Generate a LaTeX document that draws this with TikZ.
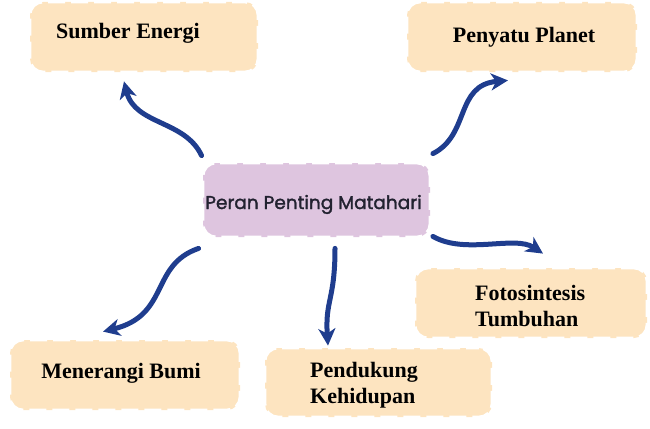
\documentclass[tikz,border=0pt]{standalone}
\usepackage{fontspec}
\setmainfont{Liberation Serif}
\newfontfamily\centerfont[FakeBold=1.6]{Poppins}
\usetikzlibrary{arrows.meta,calc}
\definecolor{peach}{HTML}{FDE4C0}
\definecolor{lav}{HTML}{DEC5DF}
\definecolor{arrowblue}{HTML}{1F3D8E}
\definecolor{centertext}{HTML}{222230}
\tikzset{
  boxshape/.style={rectangle, rounded corners=13pt, inner sep=0pt, draw=white,
    line width=2.8pt, dash pattern=on 17pt off 6pt, dash phase=4pt},
  peachbox/.style={boxshape, fill=peach},
  lavbox/.style={boxshape, fill=lav},
  lbl/.style={font=\bfseries\fontsize{22}{22}\selectfont, inner sep=0pt},
  lbltwo/.style={lbl, align=left, anchor=north west},
  conn/.style={draw=arrowblue, line width=5pt, line cap=round,
    -{Stealth[length=17pt,width=17pt,inset=5pt]}}
}
\begin{document}
\begin{tikzpicture}[x=1pt,y=-1pt]
\useasboundingbox (0,0) rectangle (650,428);
% boxes
\node[peachbox, minimum width=228pt, minimum height=70pt] (se) at (144,37) {};
\node[peachbox, minimum width=230pt, minimum height=70pt] (pp) at (522,37) {};
\node[lavbox, minimum width=227pt, minimum height=74pt] (c) at (316.5,200) {};
\node[peachbox, minimum width=230pt, minimum height=70pt] (mb) at (125,375) {};
\node[peachbox, minimum width=227pt, minimum height=69pt] (pk) at (378.5,382.5) {};
\node[peachbox, minimum width=232pt, minimum height=70pt] (ft) at (531,303) {};
% labels
\node[lbl, anchor=base] (tse) at (128,38) {Sumber Energi};
\node[lbl, anchor=base] (tpp) at (524,42) {Penyatu Planet};
\node[lbl, anchor=base] (tmb) at (121,378) {Menerangi Bumi};
\node[lbltwo] (tpk) at (310,362) {Pendukung\\[4pt]Kehidupan};
\node[lbltwo] (tft) at (475,285) {Fotosintesis\\[4pt]Tumbuhan};
\node[inner sep=0pt, anchor=base, text=centertext, font=\centerfont\fontsize{18.5}{20}\selectfont] (tc) at (313.5,209) {Peran Penting Matahari};
% connectors
\draw[conn] ($(c.north west)+(0,-6)$) .. controls (185,120) and (135,125) .. ($(se.south)+(-20,8)$);
\draw[conn] ($(c.north east)+(1.5,-8)$) .. controls (470,135) and (455,85) .. ($(pp.south)+(-14,7)$);
\draw[conn] ($(c.south west)+(-3,10)$) .. controls (150,265) and (170,315) .. ($(mb.north)+(-22,-7)$);
\draw[conn] ($(c.south)+(18.5,10)$) .. controls (335,300) and (325,300) .. ($(pk.north)+(-50.5,-1)$);
\draw[conn] ($(c.south east)+(1.5,-2)$) .. controls (465,255) and (515,235) .. ($(ft.north)+(12,-13)$);
\end{tikzpicture}
\end{document}
